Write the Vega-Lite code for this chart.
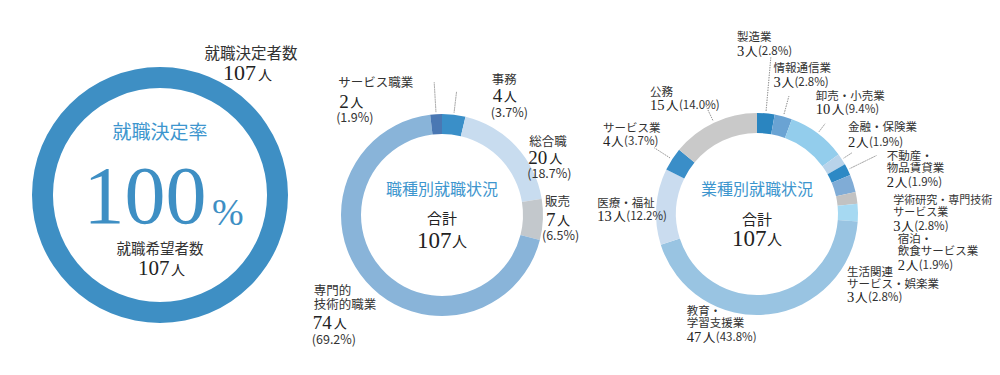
{
"$schema": "https://vega.github.io/schema/vega-lite/v6.json",
"padding": 0,
"spacing": 0,
"bounds": "flush",
"resolve": {"scale": {"color": "independent", "theta": "independent", "y": "independent"}},
"config": {"view": {"stroke": null}, "text": {"font": "Noto Sans CJK JP", "fontSize": 11.5, "color": "#333", "align": "left", "baseline": "middle"}},
"datasets": {
"rate": [{"chart": "A", "decided": 107, "hopeful": 107, "rate": 100}],
"job": [
{"chart": "B", "i": 1, "cat": "事務", "n": 4, "pct": "(3.7%)"},
{"chart": "B", "i": 2, "cat": "総合職", "n": 20, "pct": "(18.7%)"},
{"chart": "B", "i": 3, "cat": "販売", "n": 7, "pct": "(6.5%)"},
{"chart": "B", "i": 4, "cat": "専門的技術的職業", "n": 74, "pct": "(69.2%)"},
{"chart": "B", "i": 5, "cat": "サービス職業", "n": 2, "pct": "(1.9%)"}
],
"ind": [
{"chart": "C", "i": 1, "cat": "製造業", "n": 3, "pct": "(2.8%)"},
{"chart": "C", "i": 2, "cat": "情報通信業", "n": 3, "pct": "(2.8%)"},
{"chart": "C", "i": 3, "cat": "卸売・小売業", "n": 10, "pct": "(9.4%)"},
{"chart": "C", "i": 4, "cat": "金融・保険業", "n": 2, "pct": "(1.9%)"},
{"chart": "C", "i": 5, "cat": "不動産・物品賃貸業", "n": 2, "pct": "(1.9%)"},
{"chart": "C", "i": 6, "cat": "学術研究・専門技術サービス業", "n": 3, "pct": "(2.8%)"},
{"chart": "C", "i": 7, "cat": "宿泊・飲食サービス業", "n": 2, "pct": "(1.9%)"},
{"chart": "C", "i": 8, "cat": "生活関連サービス・娯楽業", "n": 3, "pct": "(2.8%)"},
{"chart": "C", "i": 9, "cat": "教育・学習支援業", "n": 47, "pct": "(43.8%)"},
{"chart": "C", "i": 10, "cat": "医療・福祉", "n": 13, "pct": "(12.2%)"},
{"chart": "C", "i": 11, "cat": "サービス業", "n": 4, "pct": "(3.7%)"},
{"chart": "C", "i": 12, "cat": "公務", "n": 15, "pct": "(14.0%)"}
]
},
"hconcat": [
{
"width": 320, "height": 375,
"data": {"name": "rate"},
"encoding": {"y": {"field": "chart", "type": "nominal", "scale": {"range": [0, 390]}, "axis": null}},
"layer": [
{"mark": {"type": "arc", "radius": 128, "radius2": 107, "color": "#3e8fc4"}, "encoding": {"theta": {"field": "decided", "type": "quantitative"}}},
{"mark": {"type": "text", "text": "就職決定率", "align": "center", "fontSize": 19, "color": "#3e96ce", "dy": -62}, "encoding": {}},
{"mark": {"type": "text", "align": "center", "baseline": "alphabetic", "font": "Liberation Serif", "fontSize": 82, "color": "#3e8fc4", "dx": -15, "dy": 28}, "encoding": {"text": {"field": "rate", "type": "quantitative"}}},
{"mark": {"type": "text", "text": "%", "baseline": "alphabetic", "font": "Liberation Serif", "fontSize": 38, "color": "#3e8fc4", "dx": 52, "dy": 30}, "encoding": {}},
{"mark": {"type": "text", "text": "就職希望者数", "align": "center", "fontSize": 14.5, "color": "#333", "dy": 55}, "encoding": {}},
{"mark": {"type": "text", "baseline": "alphabetic", "font": "Liberation Serif", "fontSize": 21, "color": "#222", "dx": -22, "dy": 80}, "encoding": {"text": {"field": "hopeful", "type": "quantitative"}}},
{"mark": {"type": "text", "text": "人", "baseline": "alphabetic", "fontSize": 14, "color": "#222", "dx": 11, "dy": 80}, "encoding": {}},
{"mark": {"type": "text", "text": "就職決定者数", "align": "center", "fontSize": 15.5, "color": "#333", "dx": 91, "dy": -141}, "encoding": {}},
{"mark": {"type": "text", "baseline": "alphabetic", "font": "Liberation Serif", "fontSize": 22, "color": "#222", "dx": 63, "dy": -115}, "encoding": {"text": {"field": "decided", "type": "quantitative"}}},
{"mark": {"type": "text", "text": "人", "baseline": "alphabetic", "fontSize": 14, "color": "#222", "dx": 98, "dy": -115}, "encoding": {}}
]
},
{
"width": 244, "height": 375,
"data": {"name": "job"},
"encoding": {"y": {"field": "chart", "type": "nominal", "scale": {"range": [0, 430]}, "axis": null}},
"layer": [
{
"encoding": {"theta": {"field": "n", "type": "quantitative", "stack": true}, "order": {"field": "i", "type": "quantitative"}},
"layer": [
{"mark": {"type": "arc", "radius": 101, "radius2": 81}, "encoding": {"color": {"field": "cat", "type": "nominal", "legend": null, "scale": {"domain": ["事務", "総合職", "販売", "専門的技術的職業", "サービス職業"], "range": ["#3a8fc8", "#c8dcef", "#c3c8cc", "#89b4d9", "#4a78b3"]}}}},
{"mark": {"type": "arc", "radius": 133, "radius2": 103, "padAngle": 3, "filled": false, "stroke": "#888", "strokeWidth": 0.8, "strokeDash": [1, 1.5]}, "encoding": {"strokeOpacity": {"condition": {"test": "datum.cat==='サービス職業'", "value": 1}, "value": 0}}},
{"mark": {"type": "arc", "radius": 124, "radius2": 103, "padAngle": 3, "filled": false, "stroke": "#888", "strokeWidth": 0.8, "strokeDash": [1, 1.5]}, "encoding": {"strokeOpacity": {"condition": {"test": "datum.cat==='事務'", "value": 1}, "value": 0}}},

{"mark": {"type": "text", "radius": 100, "fontSize": 12.5, "dx": -98, "dy": -32}, "encoding": {"text": {"condition": {"test": "datum.cat==='サービス職業'", "field": "cat", "type": "nominal"}, "value": ""}}},
{"mark": {"type": "text", "radius": 100, "font": "Liberation Serif", "fontSize": 19, "color": "#222", "dx": -97, "dy": -13}, "encoding": {"text": {"condition": {"test": "datum.cat==='サービス職業'", "field": "n", "type": "quantitative"}, "value": ""}}},
{"mark": {"type": "text", "radius": 100, "fontSize": 13, "color": "#222", "dx": -86, "dy": -12}, "encoding": {"text": {"condition": {"test": "datum.cat==='サービス職業'", "value": "人"}, "value": ""}}},
{"mark": {"type": "text", "radius": 100, "fontSize": 12.5, "dx": -100, "dy": 3}, "encoding": {"text": {"condition": {"test": "datum.cat==='サービス職業'", "field": "pct", "type": "nominal"}, "value": ""}}},

{"mark": {"type": "text", "radius": 100, "fontSize": 12.5, "dx": 38, "dy": -36}, "encoding": {"text": {"condition": {"test": "datum.cat==='事務'", "field": "cat", "type": "nominal"}, "value": ""}}},
{"mark": {"type": "text", "radius": 100, "font": "Liberation Serif", "fontSize": 19, "color": "#222", "dx": 39, "dy": -20}, "encoding": {"text": {"condition": {"test": "datum.cat==='事務'", "field": "n", "type": "quantitative"}, "value": ""}}},
{"mark": {"type": "text", "radius": 100, "fontSize": 13, "color": "#222", "dx": 50, "dy": -19}, "encoding": {"text": {"condition": {"test": "datum.cat==='事務'", "value": "人"}, "value": ""}}},
{"mark": {"type": "text", "radius": 100, "fontSize": 12.5, "dx": 37, "dy": -3}, "encoding": {"text": {"condition": {"test": "datum.cat==='事務'", "field": "pct", "type": "nominal"}, "value": ""}}},

{"mark": {"type": "text", "radius": 100, "fontSize": 12.5, "dx": 14, "dy": -5}, "encoding": {"text": {"condition": {"test": "datum.cat==='総合職'", "field": "cat", "type": "nominal"}, "value": ""}}},
{"mark": {"type": "text", "radius": 100, "font": "Liberation Serif", "fontSize": 19, "color": "#222", "dx": 13, "dy": 11}, "encoding": {"text": {"condition": {"test": "datum.cat==='総合職'", "field": "n", "type": "quantitative"}, "value": ""}}},
{"mark": {"type": "text", "radius": 100, "fontSize": 13, "color": "#222", "dx": 34, "dy": 12}, "encoding": {"text": {"condition": {"test": "datum.cat==='総合職'", "value": "人"}, "value": ""}}},
{"mark": {"type": "text", "radius": 100, "fontSize": 12.5, "dx": 12, "dy": 27}, "encoding": {"text": {"condition": {"test": "datum.cat==='総合職'", "field": "pct", "type": "nominal"}, "value": ""}}},

{"mark": {"type": "text", "radius": 100, "fontSize": 12.5, "dx": 3, "dy": -17}, "encoding": {"text": {"condition": {"test": "datum.cat==='販売'", "field": "cat", "type": "nominal"}, "value": ""}}},
{"mark": {"type": "text", "radius": 100, "font": "Liberation Serif", "fontSize": 19, "color": "#222", "dx": 4, "dy": 1}, "encoding": {"text": {"condition": {"test": "datum.cat==='販売'", "field": "n", "type": "quantitative"}, "value": ""}}},
{"mark": {"type": "text", "radius": 100, "fontSize": 13, "color": "#222", "dx": 15, "dy": 2}, "encoding": {"text": {"condition": {"test": "datum.cat==='販売'", "value": "人"}, "value": ""}}},
{"mark": {"type": "text", "radius": 100, "fontSize": 12.5, "dx": 0, "dy": 17}, "encoding": {"text": {"condition": {"test": "datum.cat==='販売'", "field": "pct", "type": "nominal"}, "value": ""}}},

{"mark": {"type": "text", "radius": 100, "fontSize": 12.5, "lineHeight": 14, "dx": -53, "dy": 10}, "encoding": {"text": {"condition": {"test": "datum.cat==='専門的技術的職業'", "value": ["専門的", "技術的職業"]}, "value": ""}}},
{"mark": {"type": "text", "radius": 100, "font": "Liberation Serif", "fontSize": 19, "color": "#222", "dx": -54, "dy": 42}, "encoding": {"text": {"condition": {"test": "datum.cat==='専門的技術的職業'", "field": "n", "type": "quantitative"}, "value": ""}}},
{"mark": {"type": "text", "radius": 100, "fontSize": 13, "color": "#222", "dx": -33, "dy": 43}, "encoding": {"text": {"condition": {"test": "datum.cat==='専門的技術的職業'", "value": "人"}, "value": ""}}},
{"mark": {"type": "text", "radius": 100, "fontSize": 12.5, "dx": -55, "dy": 59}, "encoding": {"text": {"condition": {"test": "datum.cat==='専門的技術的職業'", "field": "pct", "type": "nominal"}, "value": ""}}}
]
},
{
"transform": [{"aggregate": [{"op": "sum", "field": "n", "as": "total"}], "groupby": ["chart"]}],
"layer": [
{"mark": {"type": "text", "text": "職種別就職状況", "align": "center", "fontSize": 16, "color": "#3e96ce", "dy": -25}, "encoding": {}},
{"mark": {"type": "text", "text": "合計", "align": "center", "fontSize": 15, "color": "#222", "dy": 4}, "encoding": {}},
{"mark": {"type": "text", "font": "Liberation Serif", "fontSize": 23, "color": "#222", "dx": -25, "dy": 26}, "encoding": {"text": {"field": "total", "type": "quantitative"}}},
{"mark": {"type": "text", "text": "人", "fontSize": 15, "color": "#222", "dx": 10, "dy": 27}, "encoding": {}}
]
}
]
},
{
"width": 386, "height": 375,
"data": {"name": "ind"},
"encoding": {"y": {"field": "chart", "type": "nominal", "scale": {"range": [0, 428]}, "axis": null}},
"layer": [
{
"encoding": {"theta": {"field": "n", "type": "quantitative", "stack": true}, "order": {"field": "i", "type": "quantitative"}},
"layer": [
{"mark": {"type": "arc", "radius": 101, "radius2": 81}, "encoding": {"color": {"field": "cat", "type": "nominal", "legend": null, "scale": {"domain": ["製造業", "情報通信業", "卸売・小売業", "金融・保険業", "不動産・物品賃貸業", "学術研究・専門技術サービス業", "宿泊・飲食サービス業", "生活関連サービス・娯楽業", "教育・学習支援業", "医療・福祉", "サービス業", "公務"], "range": ["#2a85c0", "#6aa3d3", "#93cdec", "#b8d3ea", "#2d89c5", "#80acd6", "#c2c2c2", "#a6d9f2", "#99c4e2", "#cadcef", "#3a8ec8", "#c9c9c9"]}}}},
{"mark": {"type": "arc", "radius": 157, "radius2": 103, "padAngle": 3, "filled": false, "stroke": "#888", "strokeWidth": 0.8, "strokeDash": [1, 1.5]}, "encoding": {"strokeOpacity": {"condition": {"test": "datum.cat==='製造業'", "value": 1}, "value": 0}}},
{"mark": {"type": "arc", "radius": 122, "radius2": 103, "padAngle": 3, "filled": false, "stroke": "#888", "strokeWidth": 0.8, "strokeDash": [1, 1.5]}, "encoding": {"strokeOpacity": {"condition": {"test": "indexof(['情報通信業','サービス業','公務'], datum.cat) >= 0", "value": 1}, "value": 0}}},
{"mark": {"type": "arc", "radius": 113, "radius2": 103, "padAngle": 3, "filled": false, "stroke": "#888", "strokeWidth": 0.8, "strokeDash": [1, 1.5]}, "encoding": {"strokeOpacity": {"condition": {"test": "indexof(['卸売・小売業','金融・保険業'], datum.cat) >= 0", "value": 1}, "value": 0}}},
{"mark": {"type": "arc", "radius": 133, "radius2": 103, "padAngle": 3, "filled": false, "stroke": "#888", "strokeWidth": 0.8, "strokeDash": [1, 1.5]}, "encoding": {"strokeOpacity": {"condition": {"test": "datum.cat==='不動産・物品賃貸業'", "value": 1}, "value": 0}}},

{"mark": {"type": "text", "radius": 101, "dx": -29, "dy": -75}, "encoding": {"text": {"condition": {"test": "datum.cat==='製造業'", "field": "cat", "type": "nominal"}, "value": ""}}},
{"mark": {"type": "text", "radius": 101, "font": "Liberation Serif", "fontSize": 14.5, "color": "#222", "dx": -29, "dy": -61}, "encoding": {"text": {"condition": {"test": "datum.cat==='製造業'", "field": "n", "type": "quantitative"}, "value": ""}}},
{"mark": {"type": "text", "radius": 101, "fontSize": 12.5, "color": "#222", "dx": -21, "dy": -61}, "encoding": {"text": {"condition": {"test": "datum.cat==='製造業'", "value": "人"}, "value": ""}}},
{"mark": {"type": "text", "radius": 101, "fontSize": 11.5, "dx": -8, "dy": -61}, "encoding": {"text": {"condition": {"test": "datum.cat==='製造業'", "field": "pct", "type": "nominal"}, "value": ""}}},

{"mark": {"type": "text", "radius": 101, "dx": -10, "dy": -48}, "encoding": {"text": {"condition": {"test": "datum.cat==='情報通信業'", "field": "cat", "type": "nominal"}, "value": ""}}},
{"mark": {"type": "text", "radius": 101, "font": "Liberation Serif", "fontSize": 14.5, "color": "#222", "dx": -10, "dy": -34}, "encoding": {"text": {"condition": {"test": "datum.cat==='情報通信業'", "field": "n", "type": "quantitative"}, "value": ""}}},
{"mark": {"type": "text", "radius": 101, "fontSize": 12.5, "color": "#222", "dx": -2, "dy": -34}, "encoding": {"text": {"condition": {"test": "datum.cat==='情報通信業'", "value": "人"}, "value": ""}}},
{"mark": {"type": "text", "radius": 101, "fontSize": 11.5, "dx": 11, "dy": -34}, "encoding": {"text": {"condition": {"test": "datum.cat==='情報通信業'", "field": "pct", "type": "nominal"}, "value": ""}}},

{"mark": {"type": "text", "radius": 101, "dx": -2, "dy": -36}, "encoding": {"text": {"condition": {"test": "datum.cat==='卸売・小売業'", "field": "cat", "type": "nominal"}, "value": ""}}},
{"mark": {"type": "text", "radius": 101, "font": "Liberation Serif", "fontSize": 14.5, "color": "#222", "dx": -2, "dy": -23}, "encoding": {"text": {"condition": {"test": "datum.cat==='卸売・小売業'", "field": "n", "type": "quantitative"}, "value": ""}}},
{"mark": {"type": "text", "radius": 101, "fontSize": 12.5, "color": "#222", "dx": 14, "dy": -23}, "encoding": {"text": {"condition": {"test": "datum.cat==='卸売・小売業'", "value": "人"}, "value": ""}}},
{"mark": {"type": "text", "radius": 101, "fontSize": 11.5, "dx": 27, "dy": -23}, "encoding": {"text": {"condition": {"test": "datum.cat==='卸売・小売業'", "field": "pct", "type": "nominal"}, "value": ""}}},

{"mark": {"type": "text", "radius": 101, "dx": 6, "dy": -31}, "encoding": {"text": {"condition": {"test": "datum.cat==='金融・保険業'", "field": "cat", "type": "nominal"}, "value": ""}}},
{"mark": {"type": "text", "radius": 101, "font": "Liberation Serif", "fontSize": 14.5, "color": "#222", "dx": 6, "dy": -16}, "encoding": {"text": {"condition": {"test": "datum.cat==='金融・保険業'", "field": "n", "type": "quantitative"}, "value": ""}}},
{"mark": {"type": "text", "radius": 101, "fontSize": 12.5, "color": "#222", "dx": 14, "dy": -16}, "encoding": {"text": {"condition": {"test": "datum.cat==='金融・保険業'", "value": "人"}, "value": ""}}},
{"mark": {"type": "text", "radius": 101, "fontSize": 11.5, "dx": 27, "dy": -16}, "encoding": {"text": {"condition": {"test": "datum.cat==='金融・保険業'", "field": "pct", "type": "nominal"}, "value": ""}}},

{"mark": {"type": "text", "radius": 101, "lineHeight": 12, "dx": 39, "dy": -13}, "encoding": {"text": {"condition": {"test": "datum.cat==='不動産・物品賃貸業'", "value": ["不動産・", "物品賃貸業"]}, "value": ""}}},
{"mark": {"type": "text", "radius": 101, "font": "Liberation Serif", "fontSize": 14.5, "color": "#222", "dx": 39, "dy": 13}, "encoding": {"text": {"condition": {"test": "datum.cat==='不動産・物品賃貸業'", "field": "n", "type": "quantitative"}, "value": ""}}},
{"mark": {"type": "text", "radius": 101, "fontSize": 12.5, "color": "#222", "dx": 47, "dy": 13}, "encoding": {"text": {"condition": {"test": "datum.cat==='不動産・物品賃貸業'", "value": "人"}, "value": ""}}},
{"mark": {"type": "text", "radius": 101, "fontSize": 11.5, "dx": 60, "dy": 13}, "encoding": {"text": {"condition": {"test": "datum.cat==='不動産・物品賃貸業'", "field": "pct", "type": "nominal"}, "value": ""}}},

{"mark": {"type": "text", "radius": 101, "fontSize": 11, "lineHeight": 12, "dx": 40, "dy": 18}, "encoding": {"text": {"condition": {"test": "datum.cat==='学術研究・専門技術サービス業'", "value": ["学術研究・専門技術", "サービス業"]}, "value": ""}}},
{"mark": {"type": "text", "radius": 101, "font": "Liberation Serif", "fontSize": 14.5, "color": "#222", "dx": 40, "dy": 44}, "encoding": {"text": {"condition": {"test": "datum.cat==='学術研究・専門技術サービス業'", "field": "n", "type": "quantitative"}, "value": ""}}},
{"mark": {"type": "text", "radius": 101, "fontSize": 12.5, "color": "#222", "dx": 48, "dy": 44}, "encoding": {"text": {"condition": {"test": "datum.cat==='学術研究・専門技術サービス業'", "value": "人"}, "value": ""}}},
{"mark": {"type": "text", "radius": 101, "fontSize": 11.5, "dx": 61, "dy": 44}, "encoding": {"text": {"condition": {"test": "datum.cat==='学術研究・専門技術サービス業'", "field": "pct", "type": "nominal"}, "value": ""}}},

{"mark": {"type": "text", "radius": 101, "lineHeight": 12, "dx": 41, "dy": 42}, "encoding": {"text": {"condition": {"test": "datum.cat==='宿泊・飲食サービス業'", "value": ["宿泊・", "飲食サービス業"]}, "value": ""}}},
{"mark": {"type": "text", "radius": 101, "font": "Liberation Serif", "fontSize": 14.5, "color": "#222", "dx": 41, "dy": 68}, "encoding": {"text": {"condition": {"test": "datum.cat==='宿泊・飲食サービス業'", "field": "n", "type": "quantitative"}, "value": ""}}},
{"mark": {"type": "text", "radius": 101, "fontSize": 12.5, "color": "#222", "dx": 49, "dy": 68}, "encoding": {"text": {"condition": {"test": "datum.cat==='宿泊・飲食サービス業'", "value": "人"}, "value": ""}}},
{"mark": {"type": "text", "radius": 101, "fontSize": 11.5, "dx": 62, "dy": 68}, "encoding": {"text": {"condition": {"test": "datum.cat==='宿泊・飲食サービス業'", "field": "pct", "type": "nominal"}, "value": ""}}},

{"mark": {"type": "text", "radius": 101, "lineHeight": 12, "dx": -11, "dy": 60}, "encoding": {"text": {"condition": {"test": "datum.cat==='生活関連サービス・娯楽業'", "value": ["生活関連", "サービス・娯楽業"]}, "value": ""}}},
{"mark": {"type": "text", "radius": 101, "font": "Liberation Serif", "fontSize": 14.5, "color": "#222", "dx": -11, "dy": 85}, "encoding": {"text": {"condition": {"test": "datum.cat==='生活関連サービス・娯楽業'", "field": "n", "type": "quantitative"}, "value": ""}}},
{"mark": {"type": "text", "radius": 101, "fontSize": 12.5, "color": "#222", "dx": -3, "dy": 85}, "encoding": {"text": {"condition": {"test": "datum.cat==='生活関連サービス・娯楽業'", "value": "人"}, "value": ""}}},
{"mark": {"type": "text", "radius": 101, "fontSize": 11.5, "dx": 10, "dy": 85}, "encoding": {"text": {"condition": {"test": "datum.cat==='生活関連サービス・娯楽業'", "field": "pct", "type": "nominal"}, "value": ""}}},

{"mark": {"type": "text", "radius": 101, "lineHeight": 12, "dx": -82, "dy": -2}, "encoding": {"text": {"condition": {"test": "datum.cat==='教育・学習支援業'", "value": ["教育・", "学習支援業"]}, "value": ""}}},
{"mark": {"type": "text", "radius": 101, "font": "Liberation Serif", "fontSize": 14.5, "color": "#222", "dx": -82, "dy": 24}, "encoding": {"text": {"condition": {"test": "datum.cat==='教育・学習支援業'", "field": "n", "type": "quantitative"}, "value": ""}}},
{"mark": {"type": "text", "radius": 101, "fontSize": 12.5, "color": "#222", "dx": -66, "dy": 24}, "encoding": {"text": {"condition": {"test": "datum.cat==='教育・学習支援業'", "value": "人"}, "value": ""}}},
{"mark": {"type": "text", "radius": 101, "fontSize": 11.5, "dx": -53, "dy": 24}, "encoding": {"text": {"condition": {"test": "datum.cat==='教育・学習支援業'", "field": "pct", "type": "nominal"}, "value": ""}}},

{"mark": {"type": "text", "radius": 101, "dx": -59, "dy": -3}, "encoding": {"text": {"condition": {"test": "datum.cat==='医療・福祉'", "field": "cat", "type": "nominal"}, "value": ""}}},
{"mark": {"type": "text", "radius": 101, "font": "Liberation Serif", "fontSize": 14.5, "color": "#222", "dx": -59, "dy": 10}, "encoding": {"text": {"condition": {"test": "datum.cat==='医療・福祉'", "field": "n", "type": "quantitative"}, "value": ""}}},
{"mark": {"type": "text", "radius": 101, "fontSize": 12.5, "color": "#222", "dx": -43, "dy": 10}, "encoding": {"text": {"condition": {"test": "datum.cat==='医療・福祉'", "value": "人"}, "value": ""}}},
{"mark": {"type": "text", "radius": 101, "fontSize": 11.5, "dx": -30, "dy": 10}, "encoding": {"text": {"condition": {"test": "datum.cat==='医療・福祉'", "field": "pct", "type": "nominal"}, "value": ""}}},

{"mark": {"type": "text", "radius": 101, "dx": -69, "dy": -30}, "encoding": {"text": {"condition": {"test": "datum.cat==='サービス業'", "field": "cat", "type": "nominal"}, "value": ""}}},
{"mark": {"type": "text", "radius": 101, "font": "Liberation Serif", "fontSize": 14.5, "color": "#222", "dx": -69, "dy": -17}, "encoding": {"text": {"condition": {"test": "datum.cat==='サービス業'", "field": "n", "type": "quantitative"}, "value": ""}}},
{"mark": {"type": "text", "radius": 101, "fontSize": 12.5, "color": "#222", "dx": -61, "dy": -17}, "encoding": {"text": {"condition": {"test": "datum.cat==='サービス業'", "value": "人"}, "value": ""}}},
{"mark": {"type": "text", "radius": 101, "fontSize": 11.5, "dx": -48, "dy": -17}, "encoding": {"text": {"condition": {"test": "datum.cat==='サービス業'", "field": "pct", "type": "nominal"}, "value": ""}}},

{"mark": {"type": "text", "radius": 101, "dx": -64, "dy": -30}, "encoding": {"text": {"condition": {"test": "datum.cat==='公務'", "field": "cat", "type": "nominal"}, "value": ""}}},
{"mark": {"type": "text", "radius": 101, "font": "Liberation Serif", "fontSize": 14.5, "color": "#222", "dx": -64, "dy": -17}, "encoding": {"text": {"condition": {"test": "datum.cat==='公務'", "field": "n", "type": "quantitative"}, "value": ""}}},
{"mark": {"type": "text", "radius": 101, "fontSize": 12.5, "color": "#222", "dx": -48, "dy": -17}, "encoding": {"text": {"condition": {"test": "datum.cat==='公務'", "value": "人"}, "value": ""}}},
{"mark": {"type": "text", "radius": 101, "fontSize": 11.5, "dx": -35, "dy": -17}, "encoding": {"text": {"condition": {"test": "datum.cat==='公務'", "field": "pct", "type": "nominal"}, "value": ""}}}
]
},
{
"transform": [{"aggregate": [{"op": "sum", "field": "n", "as": "total"}], "groupby": ["chart"]}],
"layer": [
{"mark": {"type": "text", "text": "業種別就職状況", "align": "center", "fontSize": 16, "color": "#3e96ce", "dy": -24}, "encoding": {}},
{"mark": {"type": "text", "text": "合計", "align": "center", "fontSize": 15, "color": "#222", "dy": 6}, "encoding": {}},
{"mark": {"type": "text", "font": "Liberation Serif", "fontSize": 23, "color": "#222", "dx": -25, "dy": 25}, "encoding": {"text": {"field": "total", "type": "quantitative"}}},
{"mark": {"type": "text", "text": "人", "fontSize": 15, "color": "#222", "dx": 10, "dy": 26}, "encoding": {}}
]
}
]
}
]
}
